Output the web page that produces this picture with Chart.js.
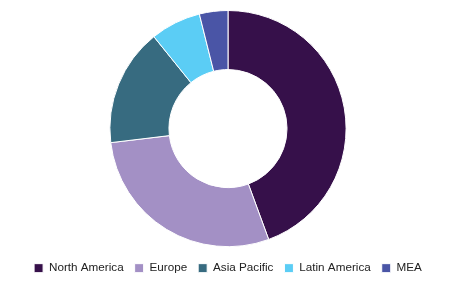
<!DOCTYPE html>
<html>
<head>
<meta charset="utf-8">
<script src="https://cdn.jsdelivr.net/npm/chart.js"></script>
<style>
  html, body { margin: 0; padding: 0; background: #fff; }
  #wrap { width: 474px; height: 281px; }
</style>
</head>
<body>
<div id="wrap"><canvas id="myChart"></canvas></div>
<script>
const regions = ['North America', 'Europe', 'Asia Pacific', 'Latin America', 'MEA'];
const shares = [44.4, 28.7, 16.1, 6.9, 3.9];
const colors = ['#36104a', '#a390c5', '#376b80', '#5bcdf5', '#4a55a6'];

const ctx = document.getElementById('myChart').getContext('2d');
const myChart = new Chart(ctx, {
  type: 'doughnut',
  data: {
    labels: regions,
    datasets: [
      {
        data: shares,
        backgroundColor: colors,
        borderColor: '#ffffff',
        borderWidth: 1
      }
    ]
  },
  options: {
    responsive: true,
    maintainAspectRatio: false,
    animation: false,
    cutout: '50%',
    layout: {
      padding: { top: 10, bottom: -3, right: 18 }
    },
    plugins: {
      legend: {
        position: 'bottom',
        // empty title just to add some space above the legend row
        title: {
          display: true,
          text: '',
          padding: { top: 4, bottom: 0 },
          font: { size: 0.1 }
        },
        labels: {
          boxWidth: 9,
          boxHeight: 9,
          padding: 11,
          color: '#222',
          font: { family: 'Liberation Sans, Arial, sans-serif', size: 11.7 }
        }
      },
      tooltip: { enabled: false }
    }
  }
});
</script>
</body>
</html>
